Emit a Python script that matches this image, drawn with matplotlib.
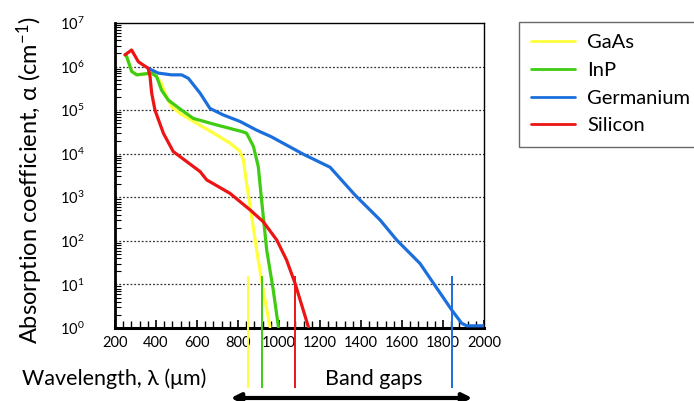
import matplotlib
matplotlib.use('Agg')
import matplotlib.pyplot as plt
import matplotlib.ticker as mticker
from matplotlib.patches import FancyArrowPatch
import numpy as np

plt.rcParams['font.family'] = ['Lato', 'DejaVu Sans']
plt.rcParams['mathtext.fontset'] = 'custom'
plt.rcParams['mathtext.rm'] = 'Lato'
plt.rcParams['mathtext.it'] = 'Lato:italic'

# Absorption curves (wavelength nm, alpha cm^-1 as log10)
gaas_x = [249, 257, 281, 306, 379, 403, 427, 444, 476, 525, 598, 696, 761, 793, 810, 826, 842, 867, 891, 923, 956]
gaas_y = [6.27, 6.23, 5.89, 5.81, 5.85, 5.77, 5.61, 5.39, 5.08, 4.90, 4.70, 4.43, 4.24, 4.12, 4.05, 3.86, 3.32, 2.55, 1.79, 0.87, 0.03]

inp_x = [249, 257, 281, 306, 379, 403, 427, 460, 525, 582, 696, 761, 818, 842, 875, 891, 899, 915, 940, 972, 997]
inp_y = [6.27, 6.23, 5.89, 5.81, 5.85, 5.77, 5.46, 5.23, 5.0, 4.81, 4.66, 4.58, 4.51, 4.47, 4.17, 3.86, 3.70, 2.94, 1.79, 0.87, 0.03]

ge_x = [362, 411, 476, 525, 558, 615, 663, 728, 810, 891, 962, 1118, 1249, 1371, 1493, 1574, 1688, 1753, 1843, 1891, 1916, 1997]
ge_y = [5.96, 5.85, 5.81, 5.81, 5.73, 5.39, 5.04, 4.89, 4.74, 4.54, 4.39, 3.99, 3.69, 3.05, 2.48, 2.02, 1.48, 1.03, 0.41, 0.11, 0.05, 0.05]

si_x = [249, 281, 314, 362, 371, 379, 395, 436, 484, 615, 647, 761, 859, 923, 989, 1037, 1078, 1143]
si_y = [6.27, 6.38, 6.11, 5.96, 5.77, 5.39, 5.0, 4.47, 4.05, 3.59, 3.40, 3.09, 2.71, 2.44, 2.02, 1.56, 1.03, 0.03]

materials = ['GaAs', 'InP', 'Germanium', 'Silicon']
colors = ['#ffff3c', '#3fcc12', '#1b6fdc', '#ec1414']
bandgap_nm = [850, 915, 1080, 1845]        # GaAs, InP, Si, Ge
bandgap_colors = ['#ffff3c', '#3fcc12', '#ec1414', '#1b6fdc']
y_decades = [1e0, 1e1, 1e2, 1e3, 1e4, 1e5, 1e6, 1e7]

fig = plt.figure(figsize=(6.94, 4.01), dpi=100)
ax = fig.add_axes([115/694, 1-328/401, 369/694, 305/401])

curves = [(gaas_x, gaas_y), (inp_x, inp_y), (ge_x, ge_y), (si_x, si_y)]
lines = []
for i in range(4):
	x, y = curves[i]
	l, = ax.plot(x, 10**np.array(y), color=colors[i], lw=2.3, label=materials[i],
	             solid_joinstyle='round', solid_capstyle='round', zorder=3)
	lines.append(l)

# Band gap markers, they hang below the axis
for bx, bc in zip(bandgap_nm, bandgap_colors):
	ax.plot([bx, bx], [0.044, 14.8], color=bc, lw=1.4, clip_on=False, zorder=4)

ax.set_yscale('log')
ax.set_xlim(200, 2000)
ax.set_ylim(1, 1e7)
ax.set_xticks(np.arange(200, 2001, 200))
ax.xaxis.set_minor_locator(mticker.FixedLocator(np.arange(200, 2001, 40)))
ax.yaxis.set_major_locator(mticker.FixedLocator(y_decades))
minor_y = [m * d for d in y_decades[:-1] for m in range(2, 10)]
ax.yaxis.set_minor_locator(mticker.FixedLocator(minor_y))
ax.yaxis.set_minor_formatter(mticker.NullFormatter())
ax.yaxis.set_major_formatter(mticker.LogFormatterMathtext())

ax.tick_params(axis='both', which='both', direction='in', top=False, right=False, colors='k')
ax.tick_params(axis='x', which='major', length=6, width=1.2, labelsize=10.5, pad=6)
ax.tick_params(axis='x', which='minor', length=5, width=1.0)
ax.tick_params(axis='y', which='major', length=0, labelsize=10.5, pad=22)
ax.tick_params(axis='y', which='minor', length=4, width=0.8)

for yv in y_decades[1:-1]:
	ax.axhline(yv, color='#333333', ls=(0, (1.5, 1.5)), lw=0.9, zorder=1)

ax.spines['left'].set_linewidth(2)
ax.spines['bottom'].set_linewidth(2.2)
ax.spines['top'].set_linewidth(1)
ax.spines['right'].set_linewidth(1)

fig.text(30/694, 1-180/401, 'Absorption coefficient, \u03b1 (cm$^{-1}$)', rotation=90,
         ha='center', va='center', fontsize=17)
fig.text(22/694, 1-379/401, 'Wavelength, \u03bb (\u03bcm)', ha='left', va='center', fontsize=15.5)
fig.text(325/694, 1-379/401, 'Band gaps', ha='left', va='center', fontsize=15.5)

arrow = FancyArrowPatch((228/694, 1-398/401), (475/694, 1-398/401), transform=fig.transFigure,
                        arrowstyle='<|-|>', mutation_scale=14, lw=3, color='k')
fig.patches.append(arrow)

leg = fig.legend(handles=lines, labels=materials, loc='upper left',
                 bbox_to_anchor=(519/694, 1-22/401), fontsize=14.5, frameon=True,
                 fancybox=False, edgecolor='#444444', handlelength=2.2,
                 handletextpad=0.6, labelspacing=0.53, borderpad=0.6, borderaxespad=0)
leg.get_frame().set_linewidth(1)
for h in leg.legend_handles:
	h.set_linewidth(2)

fig.savefig('out.png', dpi=100)
